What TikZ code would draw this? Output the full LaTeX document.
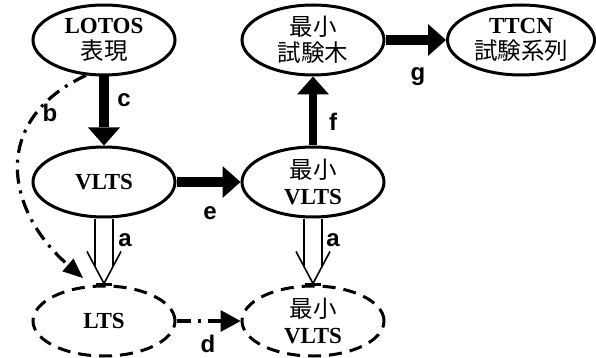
\documentclass[tikz,border=0pt]{standalone}
\usepackage{fontspec}
\setmainfont{Liberation Serif}
\newfontfamily\cjkfont{Noto Sans CJK JP}
\newfontfamily\labfont{Liberation Sans}
\newcommand\jtext[1]{{\cjkfont\mdseries\fontsize{23.5}{26}\selectfont #1}}
\usetikzlibrary{shapes.geometric,arrows.meta}
\begin{document}
\begin{tikzpicture}[x=1pt,y=-1pt,
  ell/.style={ellipse, draw, line width=3pt, minimum width=142pt, minimum height=70pt,
    inner sep=0pt, align=center, font=\fontsize{23}{26}\selectfont\bfseries},
  dell/.style={ell, dash pattern=on 13pt off 8pt},
  fat/.style={line width=10pt, -{Triangle[length=18pt,width=32pt,line width=0pt]}},
  dd/.style={line width=3.2pt, dash pattern=on 14pt off 7pt on 3pt off 7pt},
  impl/.style={line width=1.6pt},
  lbl/.style={font=\labfont\bfseries\fontsize{24}{24}\selectfont, inner sep=0pt},
]
\useasboundingbox (0,0) rectangle (596,358);

\node[ell] (lotos) at (104,40) {LOTOS\\\jtext{表現}};
\node[ell] (vlts) at (104,182) {VLTS};
\node[dell] (lts) at (104,321) {LTS};
\node[ell] (mvlts) at (313,182) {\jtext{最小}\\VLTS};
\node[dell] (mvlts2) at (313,321) {\jtext{最小}\\VLTS};
\node[ell] (mtree) at (313,40) {\jtext{最小}\\\jtext{試験木}};
\node[ell, minimum width=147pt] (ttcn) at (521,40) {TTCN\\\jtext{試験系列}};

% thick arrows
\draw[fat] (lotos) -- (vlts);
\draw[fat] (vlts) -- (mvlts);
\draw[fat, line width=8pt] (mvlts) -- (mtree);
\draw[fat] (mtree) -- (ttcn);

% dash-dot arrows
\coordinate (btip) at ([yshift=8pt]lts.121);
\draw[dd, -{Triangle[length=20pt,width=17pt,line width=0pt]}] (lotos.243) .. controls (-10,120) and (5,210) .. (btip);
\draw[dd, -{Triangle[length=20pt,width=22pt,line width=0pt]}] (lts.east) -- (mvlts2.west);

% implication arrows (a)
\foreach \s/\t in {vlts/lts, mvlts/mvlts2}{
  \draw[impl] ([xshift=-9pt]\s.south) -- ([xshift=-9pt,yshift=19pt]\t.north);
  \draw[impl] ([xshift=9pt]\s.south) -- ([xshift=9pt,yshift=19pt]\t.north);
  \draw[impl] ([xshift=-17pt,yshift=33pt]\t.north) -- ([yshift=1pt]\t.north) -- ([xshift=17pt,yshift=33pt]\t.north);
  \draw[line width=3pt] ([xshift=-8pt]\t.north) -- ([xshift=8pt]\t.north);
}

% labels
\node[lbl] (lc) at (124,100) {c};
\node[lbl] (lb) at (50,113) {b};
\node[lbl] (le) at (210,213) {e};
\node[lbl] (la1) at (125,240) {a};
\node[lbl] (la2) at (333,240) {a};
\node[lbl] (ld) at (208,344) {d};
\node[lbl] (lf) at (333,122) {f};
\node[lbl] (lg) at (418,77) {g};
\end{tikzpicture}
\end{document}
